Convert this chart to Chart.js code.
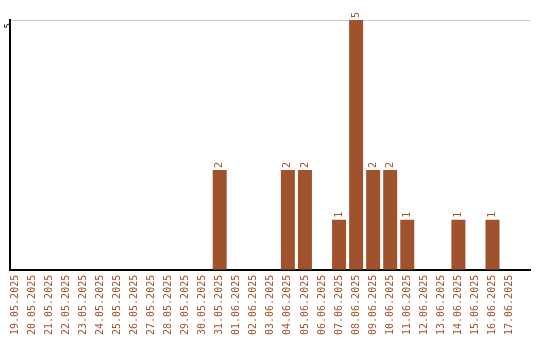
<!DOCTYPE html>
<html><head><meta charset="utf-8">
<script src="https://cdn.jsdelivr.net/npm/chart.js@4/dist/chart.umd.min.js"></script>
<style>html,body{margin:0;padding:0;background:#fff;}#wrap{width:540px;height:340px;}</style>
</head><body><div id="wrap"><canvas id="c" width="540" height="340"></canvas></div>
<script>
const categories = ["19.05.2025","20.05.2025","21.05.2025","22.05.2025","23.05.2025","24.05.2025","25.05.2025","26.05.2025","27.05.2025","28.05.2025","29.05.2025","30.05.2025","31.05.2025","01.06.2025","02.06.2025","03.06.2025","04.06.2025","05.06.2025","06.06.2025","07.06.2025","08.06.2025","09.06.2025","10.06.2025","11.06.2025","12.06.2025","13.06.2025","14.06.2025","15.06.2025","16.06.2025","17.06.2025"];
const counts = [0,0,0,0,0,0,0,0,0,0,0,0,2,0,0,0,2,2,0,1,5,2,2,1,0,0,1,0,1,0];
const yTicks = [5];

const barColor = '#A0522D';
const fontFam = '"DejaVu Sans Mono", monospace';

const valueLabels = {
  id: 'valueLabels',
  afterDatasetsDraw(chart) {
    const ctx = chart.ctx;
    const meta = chart.getDatasetMeta(0);
    ctx.save();
    ctx.fillStyle = barColor;
    ctx.font = '10px ' + fontFam;
    ctx.textAlign = 'left';
    ctx.textBaseline = 'middle';
    meta.data.forEach((bar, i) => {
      const v = counts[i];
      if (!v) return;
      ctx.save();
      ctx.translate(bar.x, bar.y - 2);
      ctx.rotate(-Math.PI / 2);
      ctx.fillText(String(v), 0, 0);
      ctx.restore();
    });
    ctx.restore();
  }
};

new Chart(document.getElementById('c'), {
  type: 'bar',
  data: {
    datasets: [{
      data: counts.map((v, i) => ({ x: i, y: v })),
      backgroundColor: barColor, barPercentage: 0.82, categoryPercentage: 1
    }]
  },
  options: {
    responsive: false,
    animation: false,
    devicePixelRatio: 1,
    layout: { padding: { top: 20, right: 10, left: 0, bottom: 0 } },
    plugins: { legend: { display: false }, tooltip: { enabled: false } },
    scales: {
      x: {
        type: 'linear',
        min: -0.3, max: 30.2,
        offset: false,
        afterBuildTicks(scale) { scale.ticks = categories.map((c, i) => ({ value: i })); },
        grid: { display: false, drawTicks: false },
        border: { display: true, color: '#000', width: 2 },
        ticks: {
          color: barColor, font: { family: fontFam, size: 10 }, minRotation: 90, maxRotation: 90, padding: 5, autoSkip: false,
          callback: (v) => categories[v]
        }
      },
      y: {
        min: 0, max: 5,
        afterBuildTicks(scale) { scale.ticks = yTicks.map(v => ({ value: v })); },
        afterFit(scale) { scale.width = 10; },
        grid: { color: '#c8c8c8', drawTicks: false },
        border: { display: true, color: '#000', width: 2 },
        ticks: { color: '#000', font: { family: fontFam, size: 9 }, minRotation: 90, maxRotation: 90, padding: 1, labelOffset: 3 }
      }
    }
  },
  plugins: [valueLabels]
});
</script></body></html>
